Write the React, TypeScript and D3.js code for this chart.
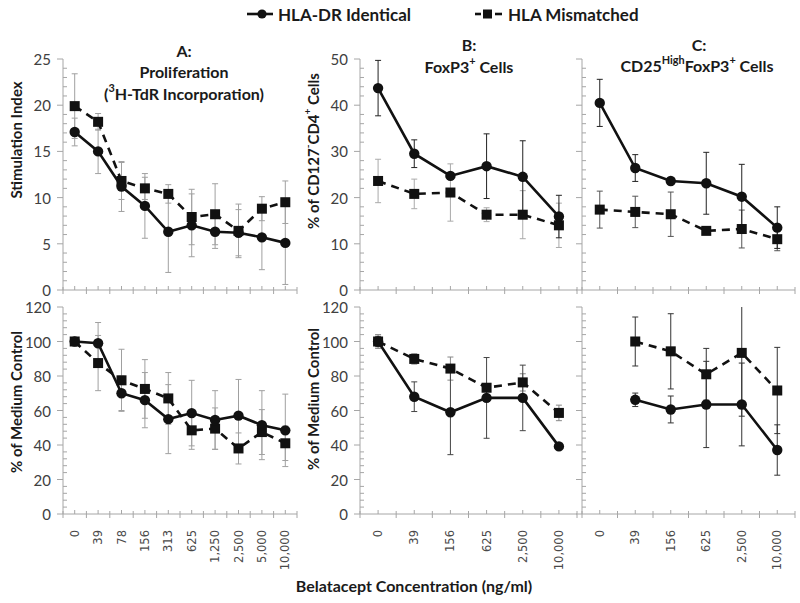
import React from "react";
import * as d3 from "d3";

const W = 800;
const H = 603;

// ---------- categories ----------
const concA = ["0", "39", "78", "156", "313", "625", "1,250", "2,500", "5,000", "10,000"];
const concBC = ["0", "39", "156", "625", "2,500", "10,000"];

// ---------- Panel A (top): Stimulation Index ----------
const idA_top = [17.1, 15.0, 11.2, 9.1, 6.3, 7.0, 6.3, 6.2, 5.7, 5.1];
const idA_top_err = [1.5, 2.4, 2.7, 3.5, 4.4, 3.4, 1.8, 2.5, 3.5, 4.5];
const mmA_top = [19.9, 18.2, 11.8, 11.0, 10.4, 7.9, 8.2, 6.4, 8.8, 9.5];
const mmA_top_err = [3.5, 0.9, 2.0, 1.2, 1.0, 3.0, 3.3, 2.9, 1.3, 2.3];

// ---------- Panel A (bottom): % of medium control ----------
const idA_bot = [100, 99, 70, 66, 55, 58.5, 54.5, 57, 51.5, 48.5];
const idA_bot_err = [1, 12, 10, 16, 20, 19, 17, 21, 20, 21];
const mmA_bot = [100, 87.5, 77.5, 72.5, 67, 48.5, 49.5, 38, 47.5, 41];
const mmA_bot_err = [1, 16, 18, 17, 15, 11, 12, 9, 13, 10];

// ---------- Panel B (top): % of CD127-CD4+ cells ----------
const idB_top = [43.7, 29.5, 24.7, 26.8, 24.5, 15.9];
const idB_top_err = [6.0, 3.0, 0.5, 7.0, 7.8, 4.6];
const mmB_top = [23.6, 20.8, 21.1, 16.3, 16.3, 14.0];
const mmB_top_err = [4.7, 3.2, 6.2, 1.5, 5.2, 4.8];

// ---------- Panel C (top) ----------
const idC_top = [40.5, 26.4, 23.6, 23.1, 20.2, 13.5];
const idC_top_err = [5.1, 2.9, 0.4, 6.7, 7.0, 4.5];
const mmC_top = [17.4, 16.9, 16.4, 12.8, 13.2, 11.0];
const mmC_top_err = [4.0, 3.4, 4.8, 0.5, 4.1, 2.5];

// ---------- Panel B (bottom) ----------
const idB_bot = [100, 68, 59, 67.3, 67.3, 39.2];
const idB_bot_err = [3, 8.6, 24.6, 23.4, 19, 1];
const mmB_bot = [100, 89.9, 84.3, 73.2, 76.3, 58.6];
const mmB_bot_err = [4, 3, 6.7, 1.5, 5, 4.5];

// ---------- Panel C (bottom) ----------
const idC_bot: (number | null)[] = [null, 66.2, 60.6, 63.5, 63.5, 37.1];
const idC_bot_err: (number | null)[] = [null, 3.9, 7.8, 25, 24, 14.6];
const mmC_bot: (number | null)[] = [null, 100, 94.3, 81, 93.4, 71.6];
const mmC_bot_err: (number | null)[] = [null, 14.2, 21.8, 15, 36.7, 25];

// ---------- tick labels ----------
const yTicksTopA = [0, 5, 10, 15, 20, 25];
const yTicksTopBC = [0, 10, 20, 30, 40, 50];
const yTicksBottom = [0, 20, 40, 60, 80, 100, 120];

const FONT = "Lato, 'Open Sans', sans-serif";
const AXIS = "#a6a6a6";
const INK = "#111";

type Series = {
  values: (number | null)[];
  errs: (number | null)[];
  dashed: boolean;
  errColor: string;
};

type PanelDef = {
  cats: string[];
  x0: number;
  x1: number;
  yTop: number;
  yBot: number;
  ticks: number[];
  minorStep: number;
  showYLabels: boolean;
  showXLabels: boolean;
  series: Series[];
};

function Panel({ p }: { p: PanelDef }) {
  const yMax = p.ticks[p.ticks.length - 1];
  const x = d3.scaleBand<string>().domain(p.cats).range([p.x0, p.x1]);
  const bw = x.bandwidth();
  const cx = (c: string) => (x(c) as number) + bw / 2;
  const y = d3.scaleLinear().domain([0, yMax]).range([p.yBot, p.yTop]);
  const minor = d3
    .range(0, yMax + 1e-9, p.minorStep)
    .filter((v) => !p.ticks.some((t) => Math.abs(t - v) < 1e-6));
  const xTicks = d3.range(0, p.cats.length * 2 + 1).map((i) => p.x0 + (i * bw) / 2);

  type Pt = { c: string; v: number | null; e: number | null };
  const line = d3
    .line<Pt>()
    .defined((d) => d.v != null)
    .x((d) => cx(d.c))
    .y((d) => y(d.v as number));

  const ordered = [...p.series].sort((a, b) => (a.dashed === b.dashed ? 0 : a.dashed ? -1 : 1));

  return (
    <g>
      <line x1={p.x0} x2={p.x0} y1={p.yTop} y2={p.yBot} stroke={AXIS} strokeWidth={1} />
      {p.ticks.map((t) => (
        <line key={"mj" + t} x1={p.x0 - 6} x2={p.x0} y1={y(t)} y2={y(t)} stroke={AXIS} strokeWidth={1} />
      ))}
      {minor.map((t) => (
        <line key={"mn" + t} x1={p.x0} x2={p.x0 + 4} y1={y(t)} y2={y(t)} stroke={AXIS} strokeWidth={1} />
      ))}
      {p.showYLabels &&
        p.ticks.map((t) => (
          <text
            key={"yl" + t}
            x={p.x0 - 12}
            y={y(t)}
            textAnchor="end"
            dominantBaseline="central"
            fontFamily={FONT}
            fontSize={15}
            fill="#404040"
          >
            {t}
          </text>
        ))}
      <line x1={p.x0} x2={p.x1} y1={p.yBot} y2={p.yBot} stroke={AXIS} strokeWidth={1} />
      {xTicks.map((tx, i) => (
        <line
          key={"xt" + i}
          x1={tx}
          x2={tx}
          y1={p.yBot - (i % 2 === 0 ? 3 : 4)}
          y2={p.yBot + (i % 2 === 0 ? 4 : 0)}
          stroke={AXIS}
          strokeWidth={1}
        />
      ))}
      {p.showXLabels &&
        p.cats.map((c) => (
          <text
            key={"xl" + c}
            transform={`translate(${cx(c)},${p.yBot + 16}) rotate(-90)`}
            textAnchor="end"
            dominantBaseline="central"
            fontFamily="'DejaVu Sans', sans-serif"
            fontSize={11.5}
            fill="#4a4a4a"
          >
            {c}
          </text>
        ))}
      {ordered.map((s, si) =>
        p.cats.map((c, i) => {
          const v = s.values[i];
          const e = s.errs[i];
          if (v == null || e == null) return null;
          const hi = Math.min(v + e, yMax);
          const lo = Math.max(v - e, 0);
          const px = cx(c);
          return (
            <g key={"eb" + si + "-" + i} stroke={s.errColor} strokeWidth={1}>
              <line x1={px} x2={px} y1={y(hi)} y2={y(lo)} />
              {v + e <= yMax && <line x1={px - 3} x2={px + 3} y1={y(hi)} y2={y(hi)} />}
              <line x1={px - 3} x2={px + 3} y1={y(lo)} y2={y(lo)} />
            </g>
          );
        })
      )}
      {ordered.map((s, si) => {
        const pts: Pt[] = p.cats.map((c, i) => ({ c, v: s.values[i], e: s.errs[i] }));
        return (
          <g key={"s" + si}>
            <path
              d={line(pts) || ""}
              fill="none"
              stroke={INK}
              strokeWidth={2.6}
              strokeDasharray={s.dashed ? "8,6" : undefined}
            />
            {pts.map((d, i) =>
              d.v == null ? null : s.dashed ? (
                <rect key={i} x={cx(d.c) - 5} y={y(d.v) - 5} width={10} height={10} fill={INK} />
              ) : (
                <circle key={i} cx={cx(d.c)} cy={y(d.v)} r={5.2} fill={INK} />
              )
            )}
          </g>
        );
      })}
    </g>
  );
}

const TOP_Y0 = 59;
const TOP_Y1 = 290;
const BOT_Y0 = 307;
const BOT_Y1 = 514;

const panels: PanelDef[] = [
  {
    cats: concA, x0: 63, x1: 297, yTop: TOP_Y0, yBot: TOP_Y1, ticks: yTicksTopA, minorStep: 1,
    showYLabels: true, showXLabels: false,
    series: [
      { values: idA_top, errs: idA_top_err, dashed: false, errColor: "#a0a0a0" },
      { values: mmA_top, errs: mmA_top_err, dashed: true, errColor: "#a0a0a0" },
    ],
  },
  {
    cats: concA, x0: 63, x1: 297, yTop: BOT_Y0, yBot: BOT_Y1, ticks: yTicksBottom, minorStep: 4,
    showYLabels: true, showXLabels: true,
    series: [
      { values: idA_bot, errs: idA_bot_err, dashed: false, errColor: "#a0a0a0" },
      { values: mmA_bot, errs: mmA_bot_err, dashed: true, errColor: "#a0a0a0" },
    ],
  },
  {
    cats: concBC, x0: 360, x1: 577, yTop: TOP_Y0, yBot: TOP_Y1, ticks: yTicksTopBC, minorStep: 2,
    showYLabels: true, showXLabels: false,
    series: [
      { values: idB_top, errs: idB_top_err, dashed: false, errColor: "#222" },
      { values: mmB_top, errs: mmB_top_err, dashed: true, errColor: "#aaa" },
    ],
  },
  {
    cats: concBC, x0: 360, x1: 577, yTop: BOT_Y0, yBot: BOT_Y1, ticks: yTicksBottom, minorStep: 4,
    showYLabels: true, showXLabels: true,
    series: [
      { values: idB_bot, errs: idB_bot_err, dashed: false, errColor: "#444" },
      { values: mmB_bot, errs: mmB_bot_err, dashed: true, errColor: "#888" },
    ],
  },
  {
    cats: concBC, x0: 582, x1: 795, yTop: TOP_Y0, yBot: TOP_Y1, ticks: yTicksTopBC, minorStep: 2,
    showYLabels: false, showXLabels: false,
    series: [
      { values: idC_top, errs: idC_top_err, dashed: false, errColor: "#222" },
      { values: mmC_top, errs: mmC_top_err, dashed: true, errColor: "#555" },
    ],
  },
  {
    cats: concBC, x0: 582, x1: 795, yTop: BOT_Y0, yBot: BOT_Y1, ticks: yTicksBottom, minorStep: 4,
    showYLabels: false, showXLabels: true,
    series: [
      { values: idC_bot, errs: idC_bot_err, dashed: false, errColor: "#333" },
      { values: mmC_bot, errs: mmC_bot_err, dashed: true, errColor: "#333" },
    ],
  },
];

type Part = { t: string; sup?: boolean };
function Rich({ parts }: { parts: Part[] }) {
  return (
    <>
      {parts.map((p, i) => {
        const prevSup = i > 0 && !!parts[i - 1].sup;
        const dy = p.sup && !prevSup ? -6 : !p.sup && prevSup ? 6 : undefined;
        return (
          <tspan key={i} dy={dy} fontSize={p.sup ? "0.68em" : undefined}>
            {p.t}
          </tspan>
        );
      })}
    </>
  );
}

export default function App() {
  const titleProps = {
    fontFamily: FONT,
    fontWeight: 700 as const,
    fontSize: 16,
    fill: "#1a1a1a",
    textAnchor: "middle" as const,
    dominantBaseline: "central" as const,
  };
  const yTitle = {
    fontFamily: FONT,
    fontWeight: 700 as const,
    fontSize: 15,
    fill: "#1a1a1a",
    textAnchor: "middle" as const,
    dominantBaseline: "central" as const,
  };
  return (
    <svg width={W} height={H} style={{ display: "block", position: "absolute", left: 0, top: 0, background: "#fff" }}>
      <rect width={W} height={H} fill="#fff" />
      {/* legend */}
      <g>
        <line x1={247} x2={273} y1={14} y2={14} stroke={INK} strokeWidth={2.6} />
        <circle cx={262} cy={14} r={4.6} fill={INK} />
        <text x={278} y={14} {...titleProps} textAnchor="start" fontSize={17}>HLA-DR Identical</text>
        <line x1={475} x2={481} y1={14} y2={14} stroke={INK} strokeWidth={2.6} />
        <rect x={483} y={9.5} width={9} height={9} fill={INK} />
        <line x1={495} x2={502} y1={14} y2={14} stroke={INK} strokeWidth={2.6} />
        <text x={508} y={14} {...titleProps} textAnchor="start" fontSize={17}>HLA Mismatched</text>
      </g>

      {/* panel titles */}
      <text x={184} y={50} {...titleProps}>A:</text>
      <text x={184} y={71} {...titleProps}>Proliferation</text>
      <text x={184} y={93} {...titleProps}>
        <Rich parts={[{ t: "(" }, { t: "3", sup: true }, { t: "H-TdR Incorporation)" }]} />
      </text>
      <text x={469} y={44} {...titleProps}>B:</text>
      <text x={469} y={66} {...titleProps}>
        <Rich parts={[{ t: "FoxP3" }, { t: "+", sup: true }, { t: " Cells" }]} />
      </text>
      <text x={699} y={44} {...titleProps}>C:</text>
      <text x={697} y={65} {...titleProps}>
        <Rich
          parts={[
            { t: "CD25" },
            { t: "High", sup: true },
            { t: "FoxP3" },
            { t: "+", sup: true },
            { t: " Cells" },
          ]}
        />
      </text>

      {/* y titles */}
      <text transform="translate(16,140) rotate(-90)" {...yTitle}>Stimulation Index</text>
      <text transform="translate(16,402) rotate(-90)" {...yTitle}>% of Medium Control</text>
      <text transform="translate(313,151) rotate(-90)" {...yTitle}>
        <Rich
          parts={[
            { t: "% of CD127" },
            { t: "-", sup: true },
            { t: "CD4" },
            { t: "+", sup: true },
            { t: " Cells" },
          ]}
        />
      </text>
      <text transform="translate(313,399) rotate(-90)" {...yTitle}>% of Medium Control</text>

      {panels.map((p, i) => (
        <Panel key={i} p={p} />
      ))}

      {/* x title */}
      <text x={414} y={585} {...titleProps}>Belatacept Concentration (ng/ml)</text>
    </svg>
  );
}
